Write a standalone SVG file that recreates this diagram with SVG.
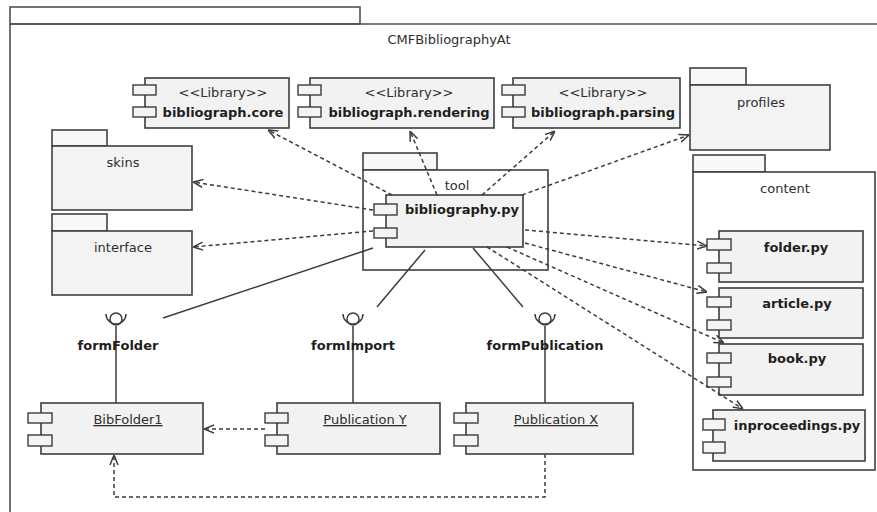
<svg xmlns="http://www.w3.org/2000/svg" width="877" height="512" viewBox="0 0 877 512">
  <style>
    .frame { fill: #ffffff; stroke: #505050; stroke-width: 1.6; }
    .pkg { fill: #f3f3f3; stroke: #404040; stroke-width: 1.6; }
    .pkgw { fill: #ffffff; stroke: #404040; stroke-width: 1.6; }
    .tab { fill: #f8f8f8; stroke: #404040; stroke-width: 1.6; }
    .comp { fill: #f2f2f2; stroke: #3c3c3c; stroke-width: 1.6; }
    .port { fill: #f4f4f4; stroke: #3c3c3c; stroke-width: 1.4; }
    .txt { font-family: "DejaVu Sans", Verdana, sans-serif; font-size: 13px; fill: #2e2e2e; }
    .bold { font-family: "DejaVu Sans", Verdana, sans-serif; font-size: 13px; font-weight: bold; fill: #1e1e1e; }
    .mid { text-anchor: middle; }
    .ul { text-decoration: underline; }
    .dep { fill: none; stroke: #3c3c3c; stroke-width: 1.5; stroke-dasharray: 4 3; }
    .link { fill: none; stroke: #3c3c3c; stroke-width: 1.5; }
    .iface { fill: none; stroke: #3c3c3c; stroke-width: 1.5; }
  </style>
  <defs>
    <marker id="open" viewBox="0 0 10 10" refX="10" refY="5" markerWidth="10" markerHeight="10" markerUnits="userSpaceOnUse" orient="auto">
      <path d="M0,1 L10,5 L0,9" fill="none" stroke="#3c3c3c" stroke-width="1.5"/>
    </marker>
  </defs>

  <rect width="877" height="512" fill="#ffffff"/>

  <!-- outer package frame -->
  <g id="CMFBibliographyAt">
    <rect class="frame" x="10" y="7" width="350" height="17"/>
    <path class="frame" d="M10,24 H877 M10,24 V512" fill="none"/>
    <text class="txt mid" x="449" y="44">CMFBibliographyAt</text>
  </g>

  <!-- library components -->
  <g id="core">
    <rect class="comp" x="145" y="78" width="144" height="50"/>
    <rect class="port" x="133" y="85" width="23" height="10"/>
    <rect class="port" x="133" y="107" width="23" height="10"/>
    <text class="txt mid" x="223" y="97">&lt;&lt;Library&gt;&gt;</text>
    <text class="bold mid" x="223" y="117">bibliograph.core</text>
  </g>
  <g id="rendering">
    <rect class="comp" x="310" y="78" width="184" height="50"/>
    <rect class="port" x="298" y="85" width="23" height="10"/>
    <rect class="port" x="298" y="107" width="23" height="10"/>
    <text class="txt mid" x="409" y="97">&lt;&lt;Library&gt;&gt;</text>
    <text class="bold mid" x="409" y="117">bibliograph.rendering</text>
  </g>
  <g id="parsing">
    <rect class="comp" x="513" y="78" width="167" height="50"/>
    <rect class="port" x="502" y="85" width="23" height="10"/>
    <rect class="port" x="502" y="107" width="23" height="10"/>
    <text class="txt mid" x="603" y="97">&lt;&lt;Library&gt;&gt;</text>
    <text class="bold mid" x="603" y="117">bibliograph.parsing</text>
  </g>

  <!-- packages -->
  <g id="profiles">
    <rect class="tab" x="690" y="68" width="56" height="17"/>
    <rect class="pkg" x="690" y="85" width="140" height="65"/>
    <text class="txt mid" x="761" y="107">profiles</text>
  </g>
  <g id="skins">
    <rect class="tab" x="52" y="130" width="55" height="16"/>
    <rect class="pkg" x="52" y="146" width="140" height="64"/>
    <text class="txt mid" x="123" y="167">skins</text>
  </g>
  <g id="interface">
    <rect class="tab" x="52" y="214" width="55" height="17"/>
    <rect class="pkg" x="52" y="231" width="140" height="64"/>
    <text class="txt mid" x="123" y="252">interface</text>
  </g>

  <g id="tool">
    <rect class="tab" x="363" y="153" width="74" height="17"/>
    <rect class="pkgw" x="363" y="170" width="185" height="100"/>
    <text class="txt mid" x="457" y="190">tool</text>
  </g>
  <g id="bibliography">
    <rect class="comp" x="386" y="195" width="137" height="52"/>
    <rect class="port" x="374" y="204" width="23" height="11"/>
    <rect class="port" x="374" y="228" width="23" height="10"/>
    <text class="bold mid" x="462" y="214">bibliography.py</text>
  </g>

  <g id="content">
    <rect class="tab" x="693" y="155" width="72" height="17"/>
    <rect class="pkgw" x="693" y="172" width="182" height="298"/>
    <text class="txt mid" x="785" y="193">content</text>
  </g>
  <g id="folder">
    <rect class="comp" x="719" y="231" width="144" height="51"/>
    <rect class="port" x="707" y="239" width="24" height="11"/>
    <rect class="port" x="707" y="263" width="24" height="10"/>
    <text class="bold mid" x="796" y="252">folder.py</text>
  </g>
  <g id="article">
    <rect class="comp" x="719" y="288" width="144" height="50"/>
    <rect class="port" x="707" y="297" width="24" height="10"/>
    <rect class="port" x="707" y="320" width="24" height="10"/>
    <text class="bold mid" x="797" y="308">article.py</text>
  </g>
  <g id="book">
    <rect class="comp" x="719" y="344" width="144" height="51"/>
    <rect class="port" x="707" y="353" width="24" height="10"/>
    <rect class="port" x="707" y="377" width="24" height="10"/>
    <text class="bold mid" x="797" y="363">book.py</text>
  </g>
  <g id="inproceedings">
    <rect class="comp" x="713" y="410" width="152" height="51"/>
    <rect class="port" x="703" y="419" width="22" height="11"/>
    <rect class="port" x="703" y="442" width="22" height="11"/>
    <text class="bold mid" x="797" y="430">inproceedings.py</text>
  </g>

  <!-- connectors -->
  <g id="connectors">
    <!-- dependencies of bibliography.py -->
    <line class="dep" x1="392" y1="195" x2="268" y2="130" marker-end="url(#open)"/>
    <line class="dep" x1="437" y1="195" x2="410" y2="131" marker-end="url(#open)"/>
    <line class="dep" x1="482" y1="195" x2="555" y2="131" marker-end="url(#open)"/>
    <line class="dep" x1="522" y1="195" x2="689" y2="135" marker-end="url(#open)"/>
    <line class="dep" x1="373" y1="210" x2="193" y2="182" marker-end="url(#open)"/>
    <line class="dep" x1="373" y1="231" x2="193" y2="247" marker-end="url(#open)"/>
    <line class="dep" x1="525" y1="230" x2="707" y2="246" marker-end="url(#open)"/>
    <line class="dep" x1="525" y1="243" x2="707" y2="292" marker-end="url(#open)"/>
    <line class="dep" x1="507" y1="247" x2="724" y2="343" marker-end="url(#open)"/>
    <line class="dep" x1="487" y1="247" x2="743" y2="409" marker-end="url(#open)"/>
    <!-- dependencies between instances -->
    <line class="dep" x1="265" y1="429" x2="204" y2="429" marker-end="url(#open)"/>
    <polyline class="dep" points="545,454 545,497 114,497 114,455" marker-end="url(#open)"/>
    <!-- interface realisations -->
    <line class="link" x1="373" y1="248" x2="163" y2="318"/>
    <line class="link" x1="425" y1="250" x2="377" y2="307"/>
    <line class="link" x1="473" y1="248" x2="523" y2="307"/>
    <line class="link" x1="116" y1="326" x2="116" y2="403"/>
    <line class="link" x1="353" y1="326" x2="353" y2="403"/>
    <line class="link" x1="545" y1="326" x2="545" y2="403"/>
  </g>

  <!-- provided / required interfaces -->
  <g id="formFolder">
    <circle class="iface" cx="116" cy="319" r="6"/>
    <path class="iface" d="M106,314 A10,10 0 0 0 126,314"/>
    <text class="bold mid" x="118" y="350">formFolder</text>
  </g>
  <g id="formImport">
    <circle class="iface" cx="353" cy="319" r="6"/>
    <path class="iface" d="M343,314 A10,10 0 0 0 363,314"/>
    <text class="bold mid" x="353" y="350">formImport</text>
  </g>
  <g id="formPublication">
    <circle class="iface" cx="545" cy="319" r="6"/>
    <path class="iface" d="M535,314 A10,10 0 0 0 555,314"/>
    <text class="bold mid" x="545" y="350">formPublication</text>
  </g>

  <!-- instances -->
  <g id="BibFolder1">
    <rect class="comp" x="41" y="403" width="162" height="51"/>
    <rect class="port" x="28" y="413" width="24" height="10"/>
    <rect class="port" x="28" y="435" width="24" height="11"/>
    <text class="txt mid ul" x="128" y="424">BibFolder1</text>
  </g>
  <g id="PublicationY">
    <rect class="comp" x="277" y="403" width="163" height="51"/>
    <rect class="port" x="265" y="413" width="23" height="10"/>
    <rect class="port" x="265" y="435" width="23" height="11"/>
    <text class="txt mid ul" x="365" y="424">Publication Y</text>
  </g>
  <g id="PublicationX">
    <rect class="comp" x="466" y="403" width="167" height="51"/>
    <rect class="port" x="454" y="413" width="24" height="10"/>
    <rect class="port" x="454" y="435" width="24" height="11"/>
    <text class="txt mid ul" x="556" y="424">Publication X</text>
  </g>
</svg>
